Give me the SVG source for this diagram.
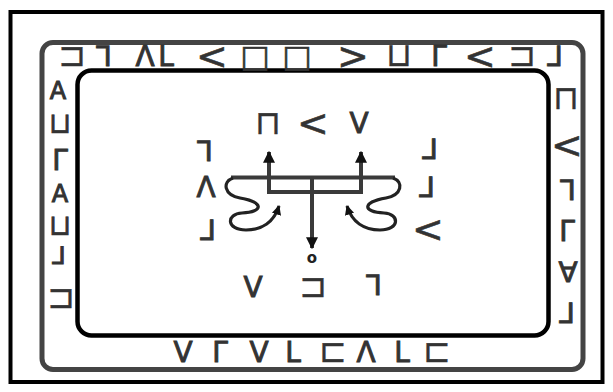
<svg xmlns="http://www.w3.org/2000/svg" width="613" height="392" viewBox="0 0 613 392">
<style>
text{font-family:"DejaVu Sans",sans-serif;fill:#333;stroke:#333;text-anchor:middle;dominant-baseline:central}
.g{font-size:28px;stroke-width:0.9}
.m{font-size:33px;stroke-width:0.4}
.a{font-size:38px;stroke-width:0.5}
.s{font-size:31px;stroke-width:0.6}
.lc{font-size:24px;stroke-width:1}
.lm{font-size:29px;stroke-width:0.6}
.o{font-size:15px;font-weight:bold;fill:#222;stroke:none}
.ln{fill:none;stroke:#3a3a3a;stroke-width:4}
.cv{fill:none;stroke:#222;stroke-width:3.2}
</style>
<defs>
<marker id="ah" viewBox="0 0 10 10" refX="9" refY="5" markerWidth="3" markerHeight="3" orient="auto" markerUnits="strokeWidth">
<path d="M0,0 L10,5 L0,10 z" fill="#111"/>
</marker>
</defs>
<rect width="613" height="392" fill="#fff"/>
<g id="frame">
<rect x="10.5" y="12" width="592" height="370" fill="none" stroke="#000" stroke-width="4"/>
<rect x="42" y="42.5" width="541" height="327" rx="11" fill="none" stroke="#444" stroke-width="5"/>
<rect x="77.5" y="70.5" width="471" height="265" rx="14" fill="none" stroke="#000" stroke-width="4.5"/>
</g>
<g id="top-row">
<text class="m" x="72" y="54">⊐</text>
<text class="g" x="104" y="56">⅂</text>
<text class="g" x="145" y="56">Λ</text>
<text class="g" x="166" y="56">L</text>
<text class="a" x="212" y="56">&lt;</text>
<text class="s" x="255" y="56">□</text>
<text class="s" x="297" y="56">□</text>
<text class="a" x="353" y="56">&gt;</text>
<text class="m" x="399" y="54">⊔</text>
<text class="g" x="439" y="56">Γ</text>
<text class="a" x="480" y="56">&lt;</text>
<text class="m" x="522" y="54">⊐</text>
<text class="g" x="555" y="56">⅃</text>
</g>
<g id="left-column">
<text class="lc" x="58" y="91">A</text>
<text class="lm" x="60" y="123">⊔</text>
<text class="g" x="60" y="160">Γ</text>
<text class="lc" x="60" y="194">A</text>
<text class="lm" x="60" y="225">⊔</text>
<text class="lc" x="59" y="256">⅃</text>
<text class="m" x="61" y="296">⊐</text>
</g>
<g id="right-column">
<text class="m" x="566" y="97">⊓</text>
<text class="a" x="567" y="145">&lt;</text>
<text class="g" x="568" y="190">⅂</text>
<text class="g" x="567" y="231">Γ</text>
<text class="g" x="568" y="272">∀</text>
<text class="g" x="567" y="313">⅃</text>
</g>
<g id="bottom-row">
<text class="g" x="183" y="352">V</text>
<text class="g" x="220" y="352">Γ</text>
<text class="g" x="259" y="352">V</text>
<text class="g" x="293" y="352">L</text>
<text class="m" x="333" y="350">⊏</text>
<text class="g" x="366" y="352">Λ</text>
<text class="g" x="402" y="352">L</text>
<text class="m" x="437" y="350">⊏</text>
</g>
<g id="center-labels">
<text class="m" x="268" y="122">⊓</text>
<text class="a" x="313" y="123">&lt;</text>
<text class="g" x="359" y="123">V</text>
<text class="g" x="205" y="151">⅂</text>
<text class="g" x="206" y="187">Λ</text>
<text class="g" x="208" y="230">⅃</text>
<text class="g" x="430" y="149">⅃</text>
<text class="g" x="427" y="187">⅃</text>
<text class="a" x="428" y="229">&lt;</text>
<text class="g" x="253" y="287">V</text>
<text class="m" x="313" y="285">⊐</text>
<text class="g" x="374" y="285">⅂</text>
<text class="o" x="312" y="258">o</text>
</g>
<g id="connectors">
<path class="ln" d="M231 177.5 H395"/>
<path class="ln" d="M269 177.5 V192 H361 V177.5"/>
<path class="ln" d="M269 177.5 V152" marker-end="url(#ah)"/>
<path class="ln" d="M361 177.5 V152" marker-end="url(#ah)"/>
<path class="ln" d="M312 177.5 V248" marker-end="url(#ah)"/>
<path class="cv" d="M233 178 C222 182,224 195,240 198 C264 202,264 212,242 213 C226 214,226 230,246 230 C262 230,274 222,279 206" marker-end="url(#ah)"/>
<path class="cv" d="M393 178 C404 182,402 195,386 198 C362 202,362 212,384 213 C400 214,400 230,380 230 C364 230,352 222,347 206" marker-end="url(#ah)"/>
</g>
</svg>
